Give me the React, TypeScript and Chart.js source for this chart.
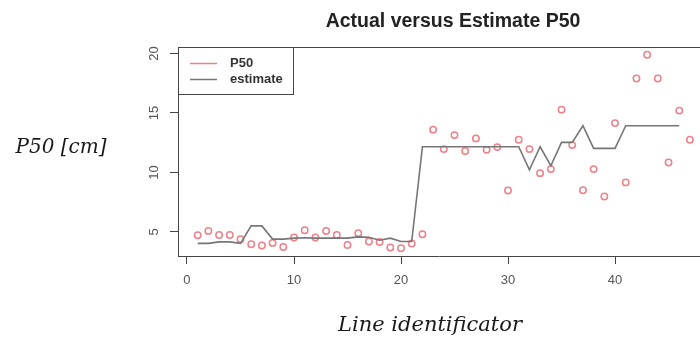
import React, { useEffect, useRef } from "react";
import { Chart, registerables } from "chart.js";

Chart.register(...registerables);

const lineIds = [1, 2, 3, 4, 5, 6, 7, 8, 9, 10, 11, 12, 13, 14, 15, 16, 17, 18, 19, 20, 21, 22, 23, 24, 25, 26, 27, 28, 29, 30, 31, 32, 33, 34, 35, 36, 37, 38, 39, 40, 41, 42, 43, 44, 45, 46, 47];

const p50Values = [
  4.72, 5.08, 4.74, 4.74, 4.38, 3.96, 3.85, 4.07, 3.73, 4.52,
  5.14, 4.52, 5.08, 4.74, 3.9, 4.89, 4.19, 4.15, 3.68, 3.62,
  4.02, 4.8, 13.6, 11.96, 13.14, 11.8, 12.86, 11.9, 12.13, 8.48,
  12.75, 11.96, 9.94, 10.28, 15.28, 12.3, 8.5, 10.28, 7.97, 14.15,
  9.16, 17.9, 19.9, 17.9, 10.84, 15.2, 12.75,
];

const estimateValues = [
  4.03, 4.03, 4.16, 4.16, 4.03, 5.5, 5.5, 4.39, 4.39, 4.47,
  4.5, 4.47, 4.47, 4.47, 4.47, 4.58, 4.55, 4.3, 4.47, 4.19,
  4.19, 12.16, 12.16, 12.16, 12.16, 12.16, 12.16, 12.16, 12.16, 12.16,
  12.16, 10.22, 12.16, 10.56, 12.53, 12.53, 13.93, 12.02, 12.02, 12.02,
  13.93, 13.93, 13.93, 13.93, 13.93, 13.93,
];

const xTickValues = [0, 10, 20, 30, 40];
const yTickValues = [5, 10, 15, 20];

const titleText = "Actual versus Estimate P50";
const xTitleText = "Line identificator";
const yTitleText = "P50 [cm]";
const legendLabels = ["P50", "estimate"];

const P50_COLOR = "rgb(238,128,138)";
const EST_COLOR = "rgb(118,118,118)";
const AXIS_COLOR = "#444";
const TICK_TEXT = "#555";

const decorPlugin = {
  id: "decor",
  afterDraw(chart: any) {
    const { ctx, chartArea, scales } = chart;
    ctx.save();
    // top border of the plot box
    ctx.strokeStyle = AXIS_COLOR;
    ctx.lineWidth = 1;
    ctx.beginPath();
    ctx.moveTo(chartArea.left, chartArea.top + 0.5);
    ctx.lineTo(chartArea.right, chartArea.top + 0.5);
    ctx.stroke();

    // rotated y tick labels
    const ys = scales.y;
    ctx.fillStyle = TICK_TEXT;
    ctx.font = "13px 'Liberation Sans', Arial, sans-serif";
    ctx.textAlign = "center";
    ctx.textBaseline = "middle";
    ys.ticks.forEach((t: any) => {
      const py = ys.getPixelForValue(t.value);
      ctx.save();
      ctx.translate(chartArea.left - 24, py);
      ctx.rotate(-Math.PI / 2);
      ctx.fillText(String(t.value), 0, 0);
      ctx.restore();
    });

    // title
    ctx.fillStyle = "#222";
    ctx.font = "bold 19.5px 'Liberation Sans', Arial, sans-serif";
    ctx.textAlign = "center";
    ctx.textBaseline = "middle";
    ctx.fillText(titleText, 453, 22);

    // axis titles
    ctx.fillStyle = "#1a1a1a";
    ctx.font = "italic 20px 'DejaVu Serif', serif";
    ctx.fillText(yTitleText, 61, 148);
    ctx.font = "italic 21px 'DejaVu Serif', serif";
    ctx.fillText(xTitleText, 430, 326);

    // legend
    const lx = chartArea.left;
    const ly = chartArea.top;
    ctx.strokeStyle = AXIS_COLOR;
    ctx.lineWidth = 1;
    ctx.strokeRect(lx + 0.5, ly + 0.5, 115, 47);
    const rows = [
      { label: legendLabels[0], color: P50_COLOR, y: ly + 16.5 },
      { label: legendLabels[1], color: EST_COLOR, y: ly + 32.5 },
    ];
    ctx.font = "bold 13px 'Liberation Sans', Arial, sans-serif";
    ctx.textAlign = "left";
    rows.forEach((r) => {
      ctx.strokeStyle = r.color;
      ctx.lineWidth = 1.5;
      ctx.beginPath();
      ctx.moveTo(lx + 12, r.y);
      ctx.lineTo(lx + 39, r.y);
      ctx.stroke();
      ctx.fillStyle = "#333";
      ctx.fillText(r.label, lx + 52, r.y);
    });
    ctx.restore();
  },
};

export default function App() {
  const canvasRef = useRef<HTMLCanvasElement | null>(null);

  useEffect(() => {
    const canvas = canvasRef.current;
    if (!canvas) return;
    const chart = new Chart(canvas, {
      type: "scatter",
      data: {
        datasets: [
          {
            label: legendLabels[1],
            type: "line",
            data: estimateValues.map((v, i) => ({ x: lineIds[i], y: v })),
            borderColor: EST_COLOR,
            borderWidth: 1.6,
            pointRadius: 0,
            tension: 0,
            fill: false,
          } as any,
          {
            label: legendLabels[0],
            data: p50Values.map((v, i) => ({ x: lineIds[i], y: v })),
            borderColor: P50_COLOR,
            backgroundColor: "rgba(0,0,0,0)",
            borderWidth: 1.5,
            pointRadius: 3.2,
            pointStyle: "circle",
            showLine: false,
          },
        ],
      },
      options: {
        responsive: false,
        animation: false,
        events: [],
        layout: { autoPadding: false, padding: { left: 0, right: 0, top: 47, bottom: 0 } },
        plugins: {
          legend: { display: false },
          tooltip: { enabled: false },
          title: { display: false },
        },
        scales: {
          x: {
            type: "linear",
            min: -0.84,
            max: 47.94,
            afterBuildTicks: (s: any) => {
              s.ticks = xTickValues.map((v) => ({ value: v }));
            },
            afterFit: (s: any) => {
              s.height = 85;
            },
            grid: {
              display: true,
              drawOnChartArea: false,
              drawTicks: true,
              tickLength: 8,
              color: AXIS_COLOR,
              lineWidth: 1,
            },
            border: { display: true, color: AXIS_COLOR, width: 1 },
            ticks: {
              color: TICK_TEXT,
              font: { family: "'Liberation Sans', Arial, sans-serif", size: 13 },
              padding: 9,
              maxRotation: 0,
              autoSkip: false,
            },
          },
          y: {
            type: "linear",
            min: 2.97,
            max: 20.55,
            afterBuildTicks: (s: any) => {
              s.ticks = yTickValues.map((v) => ({ value: v }));
            },
            afterFit: (s: any) => {
              s.width = 178;
            },
            grid: {
              display: true,
              drawOnChartArea: false,
              drawTicks: true,
              tickLength: 8,
              color: AXIS_COLOR,
              lineWidth: 1,
            },
            border: { display: true, color: AXIS_COLOR, width: 1 },
            ticks: { display: false },
          },
        },
      } as any,
      plugins: [decorPlugin],
    });
    return () => chart.destroy();
  }, []);

  return (
    <div style={{ position: "absolute", left: 0, top: 0, width: 700, height: 341, overflow: "hidden", background: "#fff" }}>
      <canvas ref={canvasRef} width={700} height={341} style={{ display: "block" }} />
    </div>
  );
}
